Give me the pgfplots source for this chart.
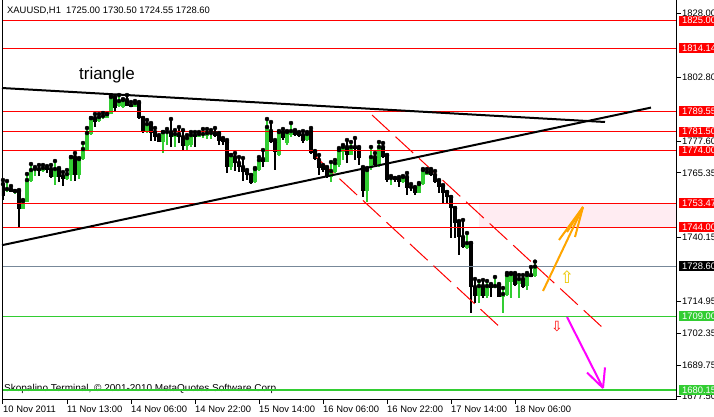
\documentclass[border=0pt]{standalone}
\usepackage{fontspec}
\setmainfont{Liberation Sans}
\newfontfamily\djv{DejaVu Sans}
\usepackage{pgfplots}
\usepackage{pgfplotstable}
\pgfplotsset{compat=1.18}
\definecolor{mtgreen}{RGB}{50,205,50}
\definecolor{bidgray}{RGB}{119,136,153}
\definecolor{zonepink}{RGB}{255,236,242}
\definecolor{arrorange}{RGB}{255,165,0}
\definecolor{arrmag}{RGB}{255,0,255}
\definecolor{upyellow}{RGB}{235,200,0}

\pgfplotstableread{
x o h l c
1 1758.19 1762.11 1757.80 1758.97
3 1757.80 1758.19 1757.01 1758.19
5 1751.13 1754.66 1751.13 1754.27
6 1753.88 1764.86 1753.88 1762.50
7 1762.11 1768.78 1761.72 1766.43
8 1766.43 1767.60 1764.07 1766.82
10 1766.03 1768.39 1765.64 1767.21
13 1763.68 1769.96 1760.54 1766.82
16 1762.90 1766.43 1762.50 1764.86
17 1764.47 1771.52 1762.11 1771.52
19 1764.47 1771.13 1762.90 1770.74
20 1770.74 1777.02 1770.35 1774.66
21 1774.27 1782.90 1774.27 1780.94
22 1780.55 1786.82 1780.15 1786.82
24 1785.64 1788.39 1785.25 1787.21
25 1787.21 1788.78 1786.43 1787.60
26 1786.82 1788.39 1786.82 1788.39
27 1788.39 1795.45 1788.39 1795.06
29 1791.53 1795.84 1791.13 1793.49
30 1791.13 1794.27 1790.74 1793.88
33 1791.13 1793.49 1791.13 1792.70
36 1781.33 1786.04 1780.94 1784.47
40 1777.41 1781.33 1773.09 1781.33
41 1780.94 1782.51 1776.23 1781.33
43 1779.37 1782.11 1775.45 1780.55
46 1775.84 1780.15 1773.88 1778.98
47 1776.23 1781.33 1775.45 1780.15
49 1779.37 1781.33 1779.37 1780.55
50 1780.15 1782.51 1778.98 1780.55
51 1779.76 1782.51 1778.58 1780.94
52 1780.55 1782.11 1778.58 1780.94
57 1767.60 1772.31 1766.43 1772.31
63 1761.72 1767.21 1761.33 1766.82
64 1766.43 1771.52 1766.03 1770.35
66 1769.56 1786.43 1769.56 1783.29
69 1772.31 1781.72 1771.92 1781.33
71 1777.02 1781.72 1776.23 1781.33
72 1780.15 1784.86 1779.37 1781.72
76 1778.19 1781.33 1777.80 1780.55
82 1763.68 1769.56 1761.72 1766.03
83 1765.64 1770.35 1765.25 1769.17
84 1768.39 1775.05 1767.60 1774.27
85 1773.49 1776.23 1770.35 1775.45
87 1772.31 1777.41 1772.31 1775.45
91 1758.19 1767.21 1753.88 1766.43
92 1767.21 1775.45 1766.43 1771.52
94 1768.39 1777.41 1767.60 1775.45
97 1762.90 1764.07 1760.54 1763.29
100 1761.72 1764.07 1761.33 1763.68
104 1757.40 1761.33 1757.40 1760.93
105 1760.93 1766.82 1760.54 1766.43
106 1764.47 1766.82 1764.47 1765.64
116 1735.83 1741.72 1735.44 1737.78
119 1717.01 1722.89 1714.26 1720.93
121 1717.01 1722.89 1716.22 1720.93
123 1720.15 1724.46 1720.15 1720.93
125 1716.62 1720.15 1710.34 1717.79
126 1717.40 1726.03 1717.01 1725.25
127 1722.50 1726.03 1716.22 1725.64
129 1721.72 1725.25 1716.22 1723.68
131 1720.93 1726.03 1719.36 1725.25
133 1725.00 1730.50 1724.55 1728.60
}\bull

\pgfplotstableread{
x o h l c
0 1760.93 1762.50 1754.66 1756.23
2 1758.97 1760.15 1757.80 1757.80
4 1758.19 1758.58 1744.07 1751.13
9 1766.82 1768.39 1764.07 1766.03
11 1767.21 1767.99 1765.25 1766.43
12 1766.82 1768.39 1763.29 1763.68
14 1766.82 1767.21 1761.72 1763.68
15 1764.07 1765.64 1760.15 1762.90
18 1771.52 1773.09 1762.11 1764.47
23 1786.82 1788.39 1783.29 1785.25
28 1795.06 1795.06 1789.57 1790.74
31 1793.88 1795.84 1791.53 1791.53
32 1791.92 1793.10 1791.13 1791.13
34 1792.70 1793.10 1786.43 1786.82
35 1786.82 1786.82 1780.94 1781.33
37 1784.47 1784.86 1777.80 1780.94
38 1781.33 1782.90 1777.80 1779.37
39 1779.37 1780.15 1777.41 1777.41
42 1781.33 1786.43 1775.45 1779.37
44 1780.55 1783.29 1777.02 1779.37
45 1779.37 1782.11 1774.27 1775.84
48 1780.15 1781.33 1775.45 1779.37
53 1780.94 1782.90 1779.37 1779.76
54 1780.55 1780.94 1776.23 1777.80
55 1778.58 1778.98 1776.23 1777.41
56 1777.41 1778.19 1765.25 1767.60
58 1771.52 1773.09 1766.03 1769.17
59 1769.17 1771.52 1765.64 1767.60
60 1767.60 1771.13 1762.11 1765.64
61 1765.64 1766.43 1762.50 1764.47
62 1764.47 1764.47 1760.93 1761.33
65 1770.74 1774.27 1767.60 1769.56
67 1781.72 1785.25 1777.02 1777.41
68 1777.41 1778.19 1766.43 1773.49
70 1781.33 1782.51 1778.19 1778.98
73 1781.72 1782.11 1779.76 1780.15
74 1780.94 1781.33 1779.37 1779.76
75 1780.15 1781.72 1777.02 1777.80
77 1781.72 1782.90 1772.70 1773.09
78 1773.49 1773.88 1770.35 1770.74
79 1770.35 1772.31 1764.47 1767.21
80 1767.60 1768.39 1765.64 1766.43
81 1767.21 1767.60 1763.29 1763.68
86 1775.45 1778.19 1769.17 1772.31
88 1775.45 1778.98 1770.35 1774.66
89 1775.05 1775.45 1768.39 1771.13
90 1767.21 1767.60 1755.84 1758.19
93 1771.52 1773.09 1767.60 1768.39
95 1775.45 1777.02 1771.13 1771.52
96 1772.31 1772.31 1761.72 1762.50
98 1763.29 1763.29 1761.72 1762.50
99 1762.90 1763.68 1759.76 1761.72
101 1763.68 1765.25 1756.62 1759.37
102 1759.76 1760.93 1758.19 1759.37
103 1759.37 1759.76 1756.62 1757.40
107 1766.03 1766.82 1764.07 1764.47
108 1764.47 1766.03 1761.33 1761.72
109 1762.11 1762.50 1757.40 1759.76
110 1760.15 1760.54 1753.48 1757.40
111 1757.80 1757.80 1753.48 1755.84
112 1755.84 1755.84 1739.76 1751.52
113 1751.52 1751.52 1739.76 1745.64
114 1746.03 1746.42 1733.09 1740.15
115 1740.15 1746.82 1735.83 1736.23
117 1737.78 1737.78 1710.34 1720.54
118 1720.54 1723.68 1714.26 1717.01
120 1720.93 1723.28 1716.22 1717.01
122 1721.33 1721.72 1716.62 1720.15
124 1721.33 1721.72 1716.62 1716.62
128 1725.64 1726.03 1720.93 1721.33
130 1723.68 1725.25 1720.15 1720.54
132 1725.25 1728.38 1724.46 1724.46
}\bear

\begin{document}
\begin{tikzpicture}[x=1pt,y=1pt]
\useasboundingbox (0,0) rectangle (714,416);
\begin{axis}[
  scale only axis, width=674pt, height=398pt,
  at={(2pt,17pt)}, anchor=south west,
  xmin=-0.25, xmax=168.25, ymin=1676.62, ymax=1832.73,
  axis x line*=bottom, axis y line*=right,
  axis line style={draw=none},
  clip=true,
  xtick={0,16,...,128},
  xticklabels={10 Nov 2011,11 Nov 13:00,14 Nov 06:00,14 Nov 22:00,15 Nov 14:00,16 Nov 06:00,16 Nov 22:00,17 Nov 14:00,18 Nov 06:00},
  ytick={1828,1802.8,1777.6,1765.35,1740.15,1714.95,1702.35,1689.75,1677.5},
  yticklabels={1828.00,1802.80,1777.60,1765.35,1740.15,1714.95,1702.35,1689.75,1677.50},
  tick align=outside, major tick length=5pt,
  tick style={black, line width=1pt},
  /pgf/number format/assume math mode=true,
  ticklabel style={font=\fontsize{9.4}{10}\selectfont},
  xticklabel style={anchor=north west, inner sep=0pt, xshift=0pt, yshift=-1.5pt},
  yticklabel style={anchor=west, inner sep=0pt, xshift=1pt},
]
% background zone
\addplot[fill=zonepink, draw=none, forget plot] coordinates {(119,1744) (168.25,1744) (168.25,1753.47) (119,1753.47)} -- cycle;
% copyright
\node[anchor=west, inner sep=0pt, font=\fontsize{10}{11}\selectfont] at (axis cs:0.25,1680.6) {Skopalino Terminal, © 2001-2010 MetaQuotes Software Corp.};
% candles: wicks
\addplot[only marks, mark=none, forget plot, error bars/.cd, y dir=minus, y explicit, error mark=none, error bar style={black, line width=1.1pt}]
  table[x=x, y=h, y error minus expr={\thisrow{h}-\thisrow{l}}] {\bear};
\addplot[only marks, mark=none, forget plot, error bars/.cd, y dir=minus, y explicit, error mark=none, error bar style={mtgreen, line width=1.1pt}]
  table[x=x, y=h, y error minus expr={\thisrow{h}-\thisrow{l}}] {\bull};
% candles: bodies
\addplot[only marks, mark=none, forget plot, error bars/.cd, y dir=minus, y explicit, error mark=none, error bar style={black, line width=3.3pt}]
  table[x=x, y expr={max(\thisrow{o},\thisrow{c})}, y error minus expr={max(abs(\thisrow{c}-\thisrow{o}),0.4)}] {\bear};
\addplot[only marks, mark=none, forget plot, error bars/.cd, y dir=minus, y explicit, error mark=none, error bar style={mtgreen, line width=3.3pt}]
  table[x=x, y expr={max(\thisrow{o},\thisrow{c})}, y error minus expr={max(abs(\thisrow{c}-\thisrow{o}),0.4)}] {\bull};
% horizontal levels
\addplot[red, line width=1.5pt, forget plot] coordinates {(-0.25,1825) (168.25,1825)};
\addplot[red, line width=1pt, forget plot] coordinates {(-0.25,1814.14) (168.25,1814.14)};
\addplot[red, line width=1pt, forget plot] coordinates {(-0.25,1789.55) (168.25,1789.55)};
\addplot[red, line width=1pt, forget plot] coordinates {(-0.25,1781.50) (168.25,1781.50)};
\addplot[red, line width=1pt, forget plot] coordinates {(-0.25,1774.00) (168.25,1774.00)};
\addplot[red, line width=1pt, forget plot] coordinates {(-0.25,1753.47) (168.25,1753.47)};
\addplot[red, line width=1pt, forget plot] coordinates {(-0.25,1744.00) (168.25,1744.00)};
\addplot[bidgray, line width=1pt, forget plot] coordinates {(-0.25,1728.60) (168.25,1728.60)};
\addplot[mtgreen, line width=1pt, forget plot] coordinates {(-0.25,1709.00) (168.25,1709.00)};
\addplot[mtgreen, line width=2pt, forget plot] coordinates {(-0.25,1680.15) (168.25,1680.15)};
% triangle
\addplot[black, line width=2pt, forget plot] coordinates {(-0.25,1798.60) (150.5,1785.27)};
\addplot[black, line width=2pt, forget plot] coordinates {(-0.25,1736.95) (162,1790.92)};
% channel
\addplot[red, line width=1pt, dash pattern=on 24pt off 8pt, forget plot] coordinates {(92.25,1788.01) (150,1704.47)};
\addplot[red, line width=1pt, dash pattern=on 24pt off 8pt, forget plot] coordinates {(78.25,1771.54) (125,1703.68)};
% orange arrow
\addplot[arrorange, line width=2pt, forget plot] coordinates {(135,1718.98) (145,1751.93)};
\addplot[arrorange, line width=2pt, forget plot] coordinates {(139,1738.99) (145,1751.93)};
\addplot[arrorange, line width=2pt, forget plot] coordinates {(141,1742.12) (145,1751.93)};
\addplot[arrorange, line width=2pt, forget plot] coordinates {(143,1740.16) (145,1751.93)};
% magenta arrow
\addplot[arrmag, line width=2pt, forget plot] coordinates {(141,1708.78) (150,1680.94)};
\addplot[arrmag, line width=2pt, forget plot] coordinates {(146,1687.00) (150,1680.94)};
\addplot[arrmag, line width=2pt, forget plot] coordinates {(150.5,1689.00) (150,1680.94)};
% symbols
\node[text=upyellow, font=\djv\fontsize{17}{17}\selectfont, inner sep=0pt] at (axis cs:141,1724.3) {⇧};
\node[text=red, font=\djv\fontsize{14}{14}\selectfont, inner sep=0pt] at (axis cs:138.5,1704.9) {⇩};
% label
\node[font=\fontsize{17}{18}\selectfont, inner sep=0pt] at (axis cs:26,1803.7) {triangle};
% label anchors
\coordinate (A1825) at (axis cs:168.25,1825);
\coordinate (A1814) at (axis cs:168.25,1814.14);
\coordinate (A1789) at (axis cs:168.25,1789.55);
\coordinate (A1781) at (axis cs:168.25,1781.50);
\coordinate (A1774) at (axis cs:168.25,1774.00);
\coordinate (A1753) at (axis cs:168.25,1753.47);
\coordinate (A1744) at (axis cs:168.25,1744.00);
\coordinate (A1728) at (axis cs:168.25,1728.60);
\coordinate (A1709) at (axis cs:168.25,1709.00);
\coordinate (A1680) at (axis cs:168.25,1680.15);
\end{axis}
% frame
\draw[black, line width=1pt] (2,416) -- (2,17) -- (676,17) -- (676,416);
% title
\node[anchor=west, inner sep=0pt, font=\fontsize{9.4}{10}\selectfont] at (7,405) {XAUUSD,H1\ \ 1725.00 1730.50 1724.55 1728.60};
% price labels
\tikzset{plab/.style={anchor=west, inner xsep=3pt, inner ysep=0pt, minimum height=10pt, text=white, font=\fontsize{9.4}{10}\selectfont, xshift=3pt}}
\node[plab, fill=red] at (A1825) {1825.00};
\node[plab, fill=red] at (A1814) {1814.14};
\node[plab, fill=red] at (A1789) {1789.55};
\node[plab, fill=red] at (A1781) {1781.50};
\node[plab, fill=red] at (A1774) {1774.00};
\node[plab, fill=red] at (A1753) {1753.47};
\node[plab, fill=red] at (A1744) {1744.00};
\node[plab, fill=black] at (A1728) {1728.60};
\node[plab, fill=mtgreen] at (A1709) {1709.00};
\node[plab, fill=mtgreen] at (A1680) {1680.15};
\end{tikzpicture}
\end{document}
